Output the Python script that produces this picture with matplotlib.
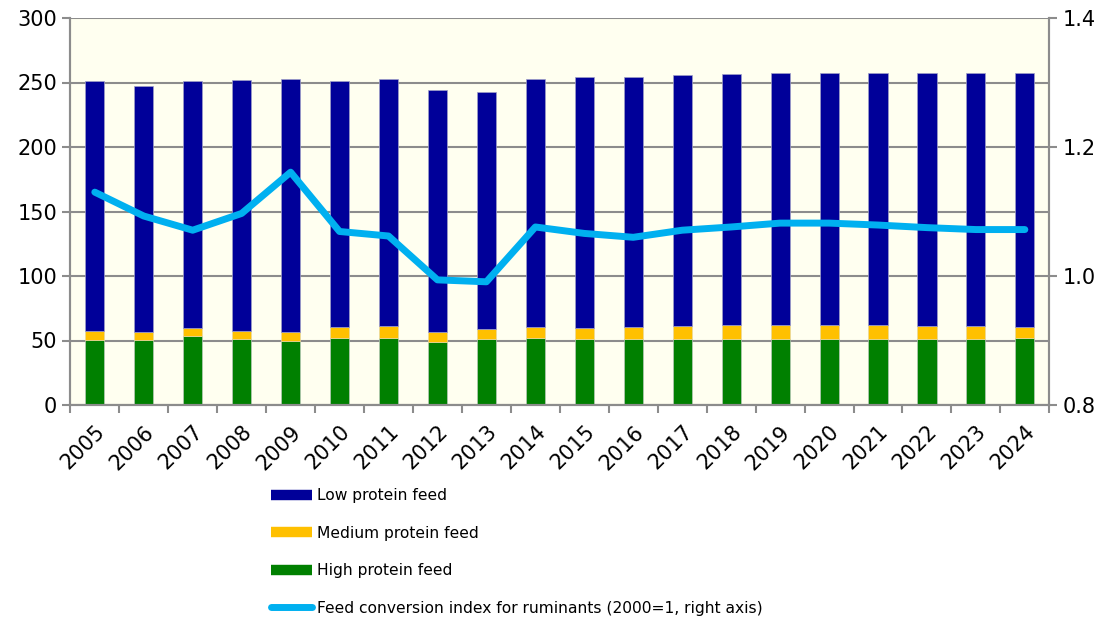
import matplotlib
matplotlib.use("Agg")
import matplotlib.pyplot as plt
from matplotlib.lines import Line2D
import numpy as np

years = [str(y) for y in range(2005, 2025)]
high_protein = [50.7, 50.1, 53.5, 51.2, 49.6, 52.0, 52.0, 48.8, 50.9, 52.0,
                51.5, 51.5, 51.5, 51.5, 51.5, 51.5, 51.5, 51.5, 51.5, 52.0]
medium_protein = [6.4, 6.2, 6.0, 5.9, 6.8, 8.5, 9.0, 7.6, 8.1, 8.5,
                  8.2, 8.7, 9.7, 10.3, 10.4, 10.4, 10.3, 9.7, 9.5, 8.5]
low_protein = [194.1, 191.2, 191.5, 194.9, 196.3, 190.9, 191.4, 187.6, 184.0, 192.5,
               194.8, 193.8, 194.3, 194.5, 195.5, 195.7, 195.8, 196.4, 196.6, 197.1]
conversion_index = [1.130, 1.093, 1.071, 1.097, 1.161, 1.069, 1.062, 0.994, 0.991, 1.076,
                    1.066, 1.060, 1.071, 1.076, 1.082, 1.082, 1.079, 1.075, 1.072, 1.072]

NAVY = '#000099'
YELLOW = '#FFC000'
GREEN = '#008000'
CYAN = '#00B0F0'
GRID = '#8C8C8C'

plt.rcParams['font.family'] = ['DejaVu Sans']

fig = plt.figure(figsize=(11.11, 6.25), dpi=100)
ax = fig.add_axes([0.0633, 0.352, 0.8812, 0.6192])
ax.set_facecolor('#FFFFF0')

x = np.arange(len(years))
high = np.array(high_protein)
med = np.array(medium_protein)
low = np.array(low_protein)
width = 0.39
ax.bar(x, high, width, color=GREEN, edgecolor='#B8C8B8', linewidth=0.5, zorder=2)
ax.bar(x, med, width, bottom=high, color=YELLOW, edgecolor='#E8D8A0', linewidth=0.5, zorder=2)
ax.bar(x, low, width, bottom=high + med, color=NAVY, edgecolor='#A0A0C8', linewidth=0.5, zorder=2)

ax.set_xlim(-0.5, len(years) - 0.5)
ax.set_ylim(0, 300)
ax.set_yticks(range(0, 301, 50))
ax.yaxis.grid(True, color=GRID, linewidth=1.5, zorder=1)
ax.set_axisbelow(True)
ax.set_xticks(x)
ax.set_xticklabels(years, rotation=45, ha='right', rotation_mode='anchor', fontsize=15)
ax.set_xticks(np.arange(-0.5, len(years), 1), minor=True)
ax.tick_params(axis='x', which='major', length=0, pad=12)
ax.tick_params(axis='x', which='minor', length=6, width=1.5, color=GRID)
ax.tick_params(axis='y', labelsize=15, length=6, width=1.5, color=GRID)

ax2 = ax.twinx()
ax2.plot(x, conversion_index, color=CYAN, linewidth=5, solid_capstyle='round',
         solid_joinstyle='round', zorder=3)
ax2.set_ylim(0.8, 1.4)
ax2.set_yticks([0.8, 1.0, 1.2, 1.4])
ax2.tick_params(axis='y', labelsize=15, length=6, width=1.5, color=GRID)

for a in (ax, ax2):
    for s in a.spines.values():
        s.set_color(GRID)
        s.set_linewidth(1.5)
    a.spines['top'].set_visible(False)

handles = [
    Line2D([], [], color=NAVY, linewidth=7.5, solid_capstyle='butt'),
    Line2D([], [], color=YELLOW, linewidth=7.5, solid_capstyle='butt'),
    Line2D([], [], color=GREEN, linewidth=7.5, solid_capstyle='butt'),
    Line2D([], [], color=CYAN, linewidth=5, solid_capstyle='round'),
]
labels = ['Low protein feed', 'Medium protein feed', 'High protein feed',
          'Feed conversion index for ruminants (2000=1, right axis)']
fig.legend(handles, labels, loc='upper left', bbox_to_anchor=(0.244, 0.219),
           frameon=False, fontsize=11.2, handlelength=2.6, handletextpad=0.35,
           labelspacing=1.45, borderaxespad=0, borderpad=0)

fig.savefig('out.png', dpi=100)
